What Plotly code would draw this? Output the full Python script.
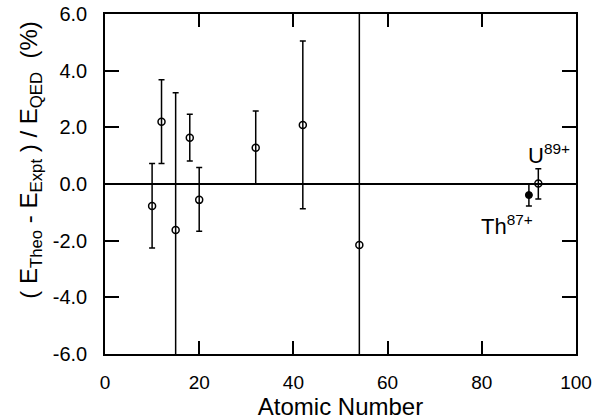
import plotly.graph_objects as go

# Data
atomic_number = [10, 12, 15, 18, 20, 32, 42, 54, 92]
deviation_pct = [-0.78, 2.20, -1.62, 1.63, -0.56, 1.28, 2.08, -2.15, 0.02]
err_plus = [1.50, 1.48, 4.84, 0.83, 1.14, 1.30, 2.97, 10.0, 0.52]
err_minus = [1.48, 1.48, 6.0, 0.82, 1.11, 1.28, 2.95, 10.0, 0.55]

th_number = [90]
th_deviation = [-0.39]
th_err = [0.39]

x_ticks = [0, 20, 40, 60, 80, 100]
y_ticks = [-6, -4, -2, 0, 2, 4, 6]
y_ticklabels = ["-6.0", "-4.0", "-2.0", "0.0", "2.0", "4.0", "6.0"]

FONT = "Liberation Sans, Arial, sans-serif"

fig = go.Figure()
fig.add_trace(go.Scatter(
    x=atomic_number, y=deviation_pct, mode="markers",
    marker=dict(symbol="circle-open", size=7, color="black", line=dict(width=1.5)),
    error_y=dict(type="data", symmetric=False, array=err_plus, arrayminus=err_minus,
                 color="black", thickness=1.5, width=3),
    showlegend=False,
))
fig.add_trace(go.Scatter(
    x=th_number, y=th_deviation, mode="markers",
    marker=dict(symbol="circle", size=7, color="black", line=dict(width=1, color="black")),
    error_y=dict(type="data", array=th_err, color="black", thickness=1.5, width=3),
    showlegend=False,
))

fig.add_annotation(x=94.2, y=1.05, xref="x", yref="y",
                   text="U<sup>89+</sup>", showarrow=False,
                   font=dict(family=FONT, size=22, color="black"))
fig.add_annotation(x=85.3, y=-1.45, xref="x", yref="y",
                   text="Th<sup>87+</sup>", showarrow=False,
                   font=dict(family=FONT, size=22, color="black"))

fig.add_annotation(
    x=-0.158, y=0.57, xref="paper", yref="paper", xanchor="center", yanchor="middle",
    text="( E<sub>Theo</sub> - E<sub>Expt</sub> ) / E<sub>QED</sub>  (%)",
    textangle=-90, showarrow=False,
    font=dict(family=FONT, size=24, color="black"))

fig.update_xaxes(
    range=[0, 100], tickvals=x_ticks, ticks="inside", ticklen=13, tickwidth=1.5,
    tickcolor="black", showline=True, linecolor="black", linewidth=1.5, mirror="ticks",
    showgrid=False, zeroline=False, automargin=False, ticklabeloverflow="allow",
    tickfont=dict(family=FONT, size=19, color="black"), ticklabelstandoff=10,
    title=dict(text="Atomic Number", font=dict(family=FONT, size=24, color="black"), standoff=2),
)
fig.update_yaxes(
    range=[-6, 6], tickvals=y_ticks, ticktext=y_ticklabels, ticks="inside", ticklen=14,
    tickwidth=1.5, tickcolor="black", showline=True, linecolor="black", linewidth=1.5,
    mirror="ticks", showgrid=False, zeroline=True, zerolinecolor="black", zerolinewidth=1.5,
    automargin=False, ticklabeloverflow="allow",
    tickfont=dict(family=FONT, size=20, color="black"), ticklabelstandoff=12,
)

fig.update_layout(
    width=593, height=420,
    margin=dict(l=105, r=17, t=14, b=66),
    paper_bgcolor="white", plot_bgcolor="white",
)

# Remove the page's default body margin so the figure fills the window exactly.
fig.write_html(
    "out.html",
    config={"displayModeBar": False},
    post_script="document.body.style.margin='0';document.body.style.overflow='hidden';",
)
